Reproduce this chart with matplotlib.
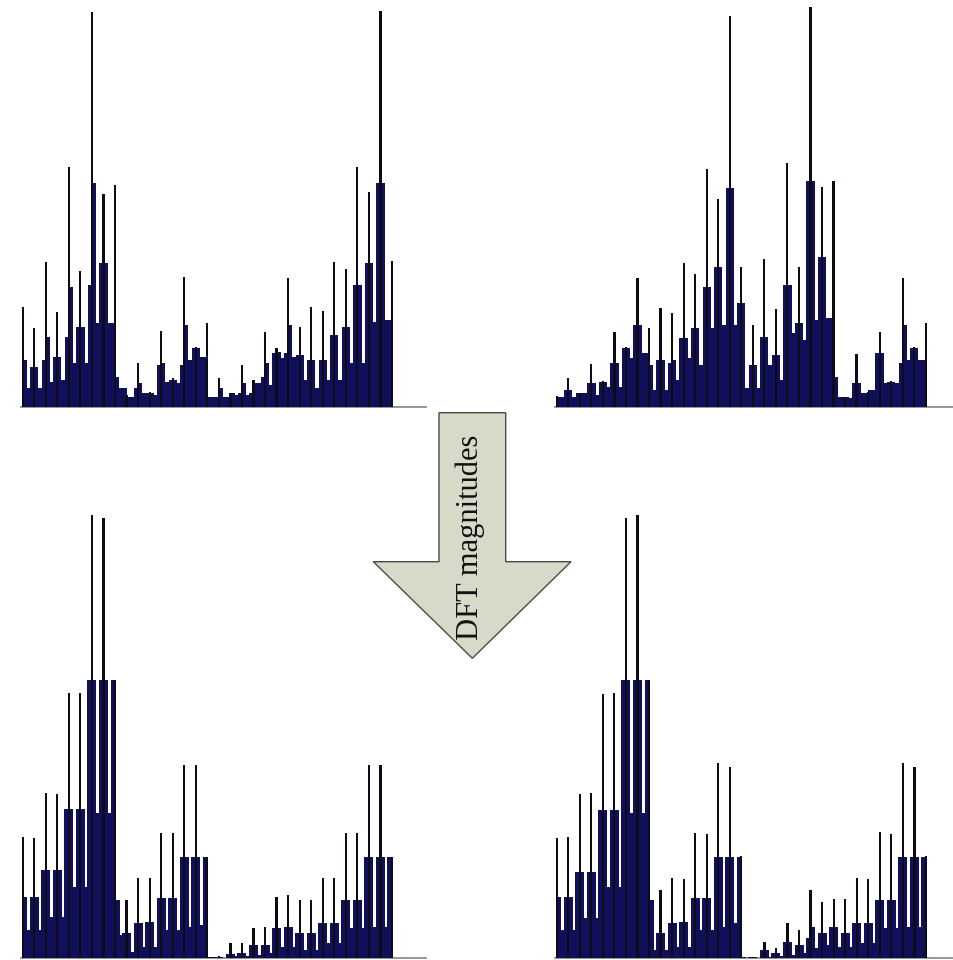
import matplotlib
matplotlib.use("Agg")
import matplotlib.pyplot as plt
from matplotlib.patches import Polygon
import numpy as np

# ---------------------------------------------------------------------------
# Histogram data (arbitrary magnitude units).
# For every panel: *_peak  -> thin spike drawn at each bin boundary (33 values)
#                  *_left  -> block just right of each spike          (32 values)
#                  *_mid   -> level visible in the slot between blocks (32 values)
#                  *_right -> block just left of the next spike        (32 values)
# ---------------------------------------------------------------------------

# top-left: original descriptor
tl_peak = [300, 237, 435, 283, 720, 408, 1185, 638, 665, 35, 130, 45, 228, 85, 390, 180,
           250, 87, 42, 125, 80, 225, 175, 385, 240, 300, 287, 435, 412, 720, 645, 1187, 437]
tl_left = [140, 120, 210, 150, 360, 240, 670, 430, 90, 30, 70, 40, 130, 80, 245, 175,
           30, 55, 40, 70, 55, 130, 165, 245, 155, 140, 140, 215, 240, 365, 430, 672]
tl_mid = [55, 55, 75, 80, 130, 130, 250, 250, 55, 28, 40, 35, 75, 70, 140, 150,
          30, 28, 35, 35, 70, 65, 145, 150, 80, 55, 80, 80, 130, 130, 255, 260]
tl_right = [120, 140, 150, 210, 240, 365, 430, 250, 30, 55, 40, 125, 80, 125, 175, 140,
            30, 30, 40, 40, 90, 160, 160, 155, 140, 140, 215, 240, 365, 430, 672, 260]

# top-right: rotated descriptor
tr_peak = [32, 87, 42, 128, 78, 225, 180, 387, 235, 297, 280, 430, 398, 712, 623, 1172,
           420, 245, 442, 292, 730, 420, 1198, 660, 677, 30, 157, 44, 225, 78, 387, 180, 250]
tr_left = [30, 50, 40, 70, 75, 130, 175, 245, 125, 140, 140, 205, 235, 360, 420, 657,
           310, 125, 210, 155, 365, 250, 677, 450, 90, 28, 70, 42, 160, 75, 245, 175]
tr_mid = [30, 28, 42, 35, 60, 60, 145, 160, 50, 50, 80, 145, 125, 235, 245, 245,
          55, 55, 125, 80, 220, 200, 260, 265, 30, 25, 40, 50, 72, 70, 140, 140]
tr_right = [50, 40, 70, 75, 130, 175, 245, 160, 140, 130, 205, 235, 360, 420, 657, 310,
            125, 210, 155, 365, 250, 677, 450, 265, 28, 70, 42, 160, 75, 130, 175, 130]

# bottom-left: DFT magnitudes of the original descriptor
bl_peak = [365, 362, 495, 493, 797, 795, 1330, 1322, 835, 175, 240, 240, 375, 375, 580, 580,
           305, 8, 47, 47, 90, 95, 185, 190, 175, 175, 240, 240, 375, 375, 580, 580, 303]
bl_left = [185, 185, 265, 265, 447, 447, 835, 835, 175, 75, 105, 110, 180, 180, 305, 305,
           5, 5, 13, 15, 40, 40, 90, 95, 75, 75, 105, 105, 175, 175, 303, 303]
bl_mid = [85, 85, 125, 125, 215, 215, 435, 435, 70, 20, 35, 35, 85, 85, 95, 100,
          3, 2, 7, 7, 10, 15, 35, 35, 25, 25, 45, 45, 90, 90, 95, 95]
bl_right = [185, 265, 265, 447, 447, 835, 835, 835, 75, 105, 110, 180, 180, 305, 305, 305,
            5, 13, 15, 40, 40, 90, 95, 75, 75, 105, 105, 175, 175, 303, 303, 303]

# bottom-right: DFT magnitudes of the rotated descriptor
br_peak = [362, 365, 493, 495, 793, 795, 1320, 1330, 835, 205, 240, 237, 377, 372, 585, 575,
           307, 5, 50, 30, 105, 85, 205, 170, 177, 177, 240, 238, 380, 372, 585, 575, 307]
br_left = [185, 185, 260, 260, 445, 445, 835, 835, 175, 75, 105, 110, 180, 180, 305, 305,
           3, 5, 25, 15, 50, 40, 95, 75, 95, 75, 105, 105, 175, 175, 305, 305]
br_mid = [85, 85, 120, 120, 215, 215, 435, 435, 25, 25, 35, 35, 85, 85, 95, 105,
          2, 2, 5, 8, 10, 15, 30, 40, 35, 35, 45, 45, 90, 90, 95, 95]
br_right = [185, 260, 260, 445, 445, 835, 835, 835, 75, 105, 110, 180, 180, 305, 305, 305,
            5, 25, 15, 50, 40, 60, 75, 95, 75, 105, 105, 175, 175, 305, 305, 305]

arrow_label = "DFT magnitudes"

# ---------------------------------------------------------------------------
W, H = 954, 960
fig = plt.figure(figsize=(W / 100, H / 100), dpi=100)
fig.patch.set_facecolor("white")

FILL = "#10105a"
SPIKE = "#0c0c18"
AXIS = "#8e8e8e"


def panel(x_start, unit, x_line_end, y_top, y_base, ymax,
          peak, left, mid, right, part_w):
    """Place one histogram panel using pixel geometry of the figure."""
    pad = 0.12
    x0 = x_start - pad * unit
    ax = fig.add_axes([x0 / W, 1 - y_base / H, (x_line_end - x0) / W, (y_base - y_top) / H])
    n = len(left)
    k = np.arange(n)
    ax.bar(k + 0.5, mid, width=1.0, color=FILL, linewidth=0, zorder=3)
    ax.bar(k, left, width=part_w, align="edge", color=FILL, linewidth=0, zorder=4)
    ax.bar(k + 1, right, width=-part_w, align="edge", color=FILL, linewidth=0, zorder=4)
    ax.bar(np.arange(n + 1), peak, width=0.19, color=SPIKE, linewidth=0, zorder=5)
    ax.set_xlim(-pad, (x_line_end - x_start) / unit)
    ax.set_ylim(0, ymax)
    for side in ("top", "left", "right"):
        ax.spines[side].set_visible(False)
    ax.spines["bottom"].set_color(AXIS)
    ax.spines["bottom"].set_linewidth(1.3)
    ax.spines["bottom"].set_zorder(2)
    ax.set_xticks([])
    ax.set_yticks([])
    ax.patch.set_alpha(0)
    return ax


panel(22.7, 11.54, 426, 0, 406.7, 1220, tl_peak, tl_left, tl_mid, tl_right, 0.36)
panel(556.8, 11.53, 954, 0, 406.7, 1220, tr_peak, tr_left, tr_mid, tr_right, 0.36)
panel(22.7, 11.54, 426, 500, 958.3, 1375, bl_peak, bl_left, bl_mid, bl_right, 0.39)
panel(556.7, 11.54, 954, 500, 958.3, 1375, br_peak, br_left, br_mid, br_right, 0.39)

# ---------------------------------------------------------------------------
# Downward block arrow between the two rows
over = fig.add_axes([0, 0, 1, 1])
over.set_xlim(0, W)
over.set_ylim(H, 0)
over.axis("off")
over.patch.set_alpha(0)

shaft_l, shaft_r = 439, 505.7
shaft_top, head_top = 412.7, 561.7
head_l, head_r = 373.3, 571
tip = ((shaft_l + shaft_r) / 2, 658.3)
arrow = Polygon([(shaft_l, shaft_top), (shaft_r, shaft_top), (shaft_r, head_top),
                 (head_r, head_top), tip, (head_l, head_top), (shaft_l, head_top)],
                closed=True, facecolor="#d7dac8", edgecolor="#4a4a4a", linewidth=1.0,
                joinstyle="miter")
over.add_patch(arrow)
over.text(470, 537, arrow_label, rotation=90, ha="center", va="center",
          fontsize=22, family="Liberation Serif", color="#111111")

fig.savefig("out.png", dpi=100, facecolor="white")
